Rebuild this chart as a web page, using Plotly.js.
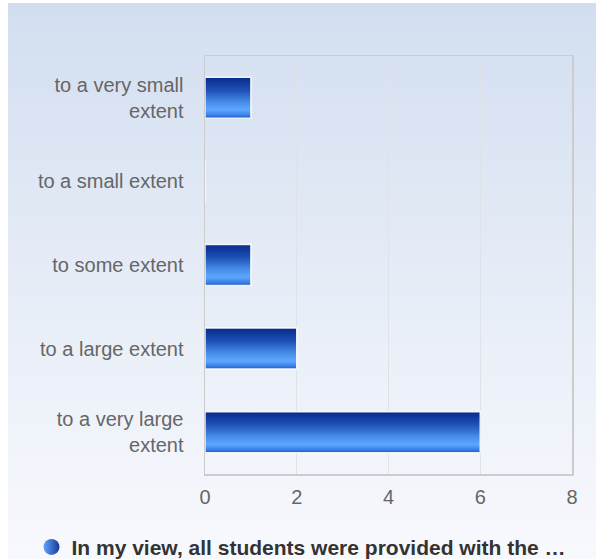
<!DOCTYPE html>
<html>
<head>
<meta charset="utf-8">
<script src="https://cdn.plot.ly/plotly-3.0.1.min.js"></script>
<style>
  html, body { margin: 0; padding: 0; background: #ffffff; }
  #bg { position: absolute; left: 8px; top: 3px; width: 588px; height: 556px;
        background: linear-gradient(to bottom, #d2def0 0%, #e4ebf6 45%, #f8f9fd 100%); }
  #chart { position: absolute; left: 0; top: 0; width: 596px; height: 559px; }
</style>
</head>
<body>
<div id="bg"></div>
<div id="chart"></div>
<script>
// ---- data ----
const categories = ["to a very small<br>extent", "to a small extent", "to some extent", "to a large extent", "to a very large<br>extent"];
const values = [1, 0, 1, 2, 6];
const seriesName = "In my view, all students were provided with the …";
const xTickVals = [0, 2, 4, 6, 8];

// ---- gradient styling for bars (top -> bottom) ----
const stops = [
  [0.00, [10, 42, 140]],
  [0.30, [28, 78, 180]],
  [0.60, [70, 138, 230]],
  [0.80, [95, 168, 255]],
  [0.92, [60, 128, 232]],
  [1.00, [30, 92, 200]]
];
function colorAt(t) {
  for (let i = 0; i < stops.length - 1; i++) {
    const [t0, c0] = stops[i], [t1, c1] = stops[i + 1];
    if (t >= t0 && t <= t1) {
      const f = (t - t0) / (t1 - t0);
      const c = c0.map((v, k) => Math.round(v + (c1[k] - v) * f));
      return `rgb(${c[0]},${c[1]},${c[2]})`;
    }
  }
  const c = stops[stops.length - 1][1];
  return `rgb(${c[0]},${c[1]},${c[2]})`;
}

const FONT = "'Liberation Sans', Arial, Helvetica, sans-serif";
const barWidth = 0.49;
const N = 40;
const traces = [];
for (let i = 0; i < N; i++) {
  const sw = barWidth / N;
  traces.push({
    type: 'bar', orientation: 'h',
    x: values, y: categories,
    width: barWidth - i * sw, offset: -barWidth / 2 + i * sw,
    marker: { color: colorAt((i + 0.5) / N), line: { width: 0 } },
    showlegend: false, hoverinfo: 'skip'
  });
}
// white outline
traces.push({
  type: 'bar', orientation: 'h',
  x: values, y: categories,
  width: barWidth, offset: -barWidth / 2,
  marker: { color: 'rgba(0,0,0,0)', line: { color: 'rgba(255,255,255,0.9)', width: 1.5 } },
  showlegend: false, name: seriesName
});
// legend entry
traces.push({
  type: 'scatter', mode: 'markers',
  x: [null], y: [null],
  name: seriesName,
  marker: { symbol: 'circle', size: 20, color: '#62a4ff',
            gradient: { type: 'horizontal', color: '#16389a' } },
  showlegend: true
});

const layout = {
  width: 596, height: 559,
  margin: { l: 205, r: 24, t: 56, b: 85 },
  paper_bgcolor: 'rgba(0,0,0,0)',
  plot_bgcolor: 'rgba(0,0,0,0)',
  barmode: 'overlay',
  font: { family: FONT, color: '#666666', size: 20 },
  xaxis: {
    range: [0, 8], tickvals: xTickVals, ticktext: xTickVals.map(String),
    showgrid: true, gridcolor: '#dfe3e8', gridwidth: 1,
    zeroline: false, showline: true, mirror: true, linecolor: '#cccccc', linewidth: 1.5,
    ticks: '', ticklabelstandoff: 4, tickfont: { family: FONT, size: 20, color: '#666666' }
  },
  yaxis: {
    type: 'category', categoryorder: 'array', categoryarray: categories,
    autorange: false, range: [4.5, -0.5],
    showgrid: false, zeroline: false, showline: true, mirror: true,
    linecolor: '#cccccc', linewidth: 1.5,
    ticks: '', ticklabelstandoff: 16,
    tickfont: { family: FONT, size: 20, color: '#666666' }
  },
  showlegend: true,
  legend: {
    orientation: 'h', xref: 'container', yref: 'container',
    x: 0.505, xanchor: 'center', y: 0.021, yanchor: 'middle',
    font: { family: FONT, size: 21, color: '#333333', weight: 'bold' },
    itemwidth: 30,
    bgcolor: 'rgba(0,0,0,0)'
  }
};

Plotly.newPlot('chart', traces, layout, { displayModeBar: false, staticPlot: true });
</script>
</body>
</html>
